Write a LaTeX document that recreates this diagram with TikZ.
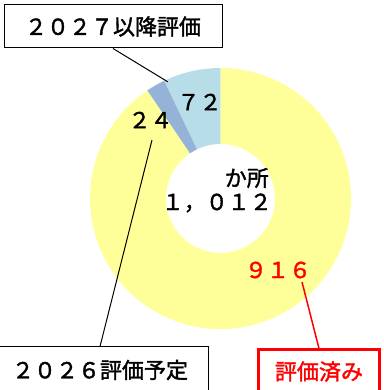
\documentclass[tikz,border=0pt]{standalone}
\usepackage{fontspec}
\setmainfont{Noto Sans CJK JP}[FakeBold=1.6,AutoFakeBold=1.6]
\usetikzlibrary{calc,positioning}
\definecolor{ringyellow}{HTML}{FFFF99}
\definecolor{ringblue}{HTML}{B7DEE8}
\definecolor{ringgrey}{HTML}{95B3D7}
\definecolor{markred}{HTML}{FF0000}

\begin{document}
\begin{tikzpicture}[x=1pt,y=1pt,
  lbl/.style={inner sep=0pt,font=\fontsize{22}{26}\selectfont\bfseries},
  tagbox/.style={draw,line width=1pt,fill=white,inner sep=0pt,
    font=\fontsize{22}{26}\selectfont\bfseries},
  lead/.style={line width=1pt}]
\clip (0,0) rectangle (383,390);
\coordinate (c) at (220.5,191.5);

% ring, counterclockwise from the top
\foreach \a/\b/\col in {90/115.6/ringblue,115.6/124.2/ringgrey,124.2/450/ringyellow}
  \fill[\col] ($(c)+(\a:130.5)$) arc (\a:\b:130.5)
    -- ($(c)+(\b:54.5)$) arc (\b:\a:54.5) -- cycle;

% values
\node[lbl] (v72) at (199.5,288) {７２};
\node[lbl] (v24) at (150.5,270) {２４};
\node[lbl,text=markred] (v916) at (278,120) {９１６};
\node[lbl,anchor=east] (unit) at (269,212) {か所};
\node[lbl,anchor=east] (total) at (272,187) {１，０１２};

% boxes
\node[tagbox,minimum width=218,minimum height=43] (box27) at (113,363.5) {２０２７以降評価};
\node[tagbox,minimum width=216,minimum height=46] (box26) at (100,20) {２０２６評価予定};
\node[tagbox,draw=markred,text=markred,line width=3pt,
  minimum width=121,minimum height=43] (boxdone) at (319,18.5) {評価済み};

% leaders
\coordinate (p72) at ($(c)+(114.3:128)$);
\coordinate (p24) at (152,250);
\coordinate (p916) at (302,108);
\draw[lead] (box27.south) -- (p72);
\draw[lead] (p24) -- (box26.north);
\draw[lead,markred,line width=1.5pt] (p916) -- (boxdone.north);
\end{tikzpicture}
\end{document}
